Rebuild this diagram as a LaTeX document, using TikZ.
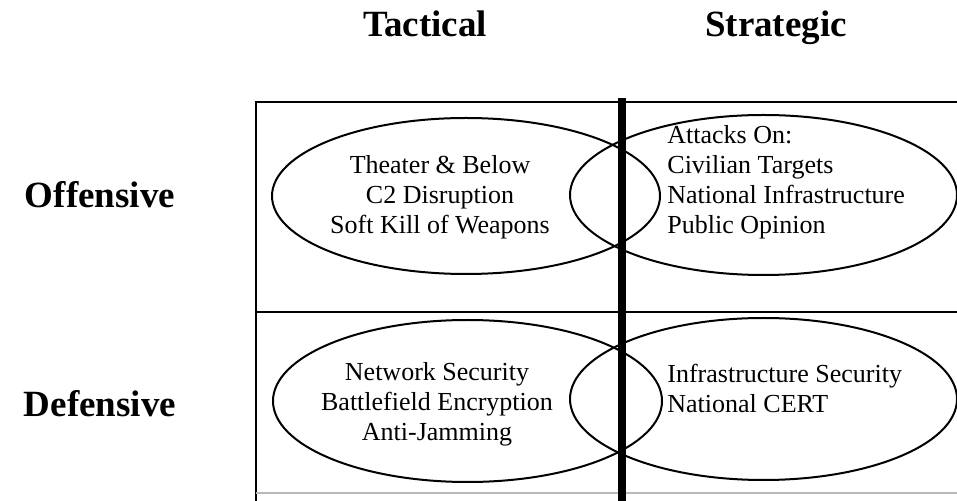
\documentclass[tikz,border=0pt]{standalone}
\usepackage{fontspec}
\setmainfont{Liberation Serif}
\usetikzlibrary{shapes.geometric}

\begin{document}
\begin{tikzpicture}[x=0.5pt,y=-0.5pt]

\tikzset{zone/.style = {shape=ellipse,draw,line width=1pt,inner sep=0pt}}
\tikzset{item/.style = {font=\fontsize{13}{15}\selectfont,inner sep=0pt}}
\tikzset{head/.style = {font=\fontsize{18.5}{22}\selectfont\bfseries,inner sep=0pt,anchor=base}}
\useasboundingbox (0,0) rectangle (957,501);
% headings
\node[head] (tac) at (425,37) {Tactical};
\node[head] (str) at (776,37) {Strategic};
\node[head] (off) at (100,208) {Offensive};
\node[head] (def) at (100,417) {Defensive};
% grid
\draw[line width=1.3pt] (957,102) -- (256,102) -- (256,501);
\draw[line width=1.3pt] (256,312) -- (957,312);
\draw[gray!55,line width=0.8pt] (256,493) -- (957,493);
% ellipses
\node[zone,minimum width=194pt,minimum height=78pt] (offT) at (466,196) {};
\node[zone,minimum width=193.5pt,minimum height=80pt] (offS) at (763.5,195) {};
\node[zone,minimum width=194.5pt,minimum height=81pt] (defT) at (467.5,401) {};
\node[zone,minimum width=193.5pt,minimum height=81pt] (defS) at (763.5,399) {};
\draw[line width=4pt] (622,98) -- (622,501);
% texts
\node[item,align=center] (offTtext) at (440,197) {Theater \& Below\\C2 Disruption\\Soft Kill of Weapons};
\node[item,align=left,anchor=west] (offStext) at (667,182) {Attacks On:\\Civilian Targets\\National Infrastructure\\Public Opinion};
\node[item,align=center] (defTtext) at (437,404) {Network Security\\Battlefield Encryption\\Anti-Jamming};
\node[item,align=left,anchor=west] (defStext) at (667,388) {Infrastructure Security\\National CERT};
\end{tikzpicture}
\end{document}
